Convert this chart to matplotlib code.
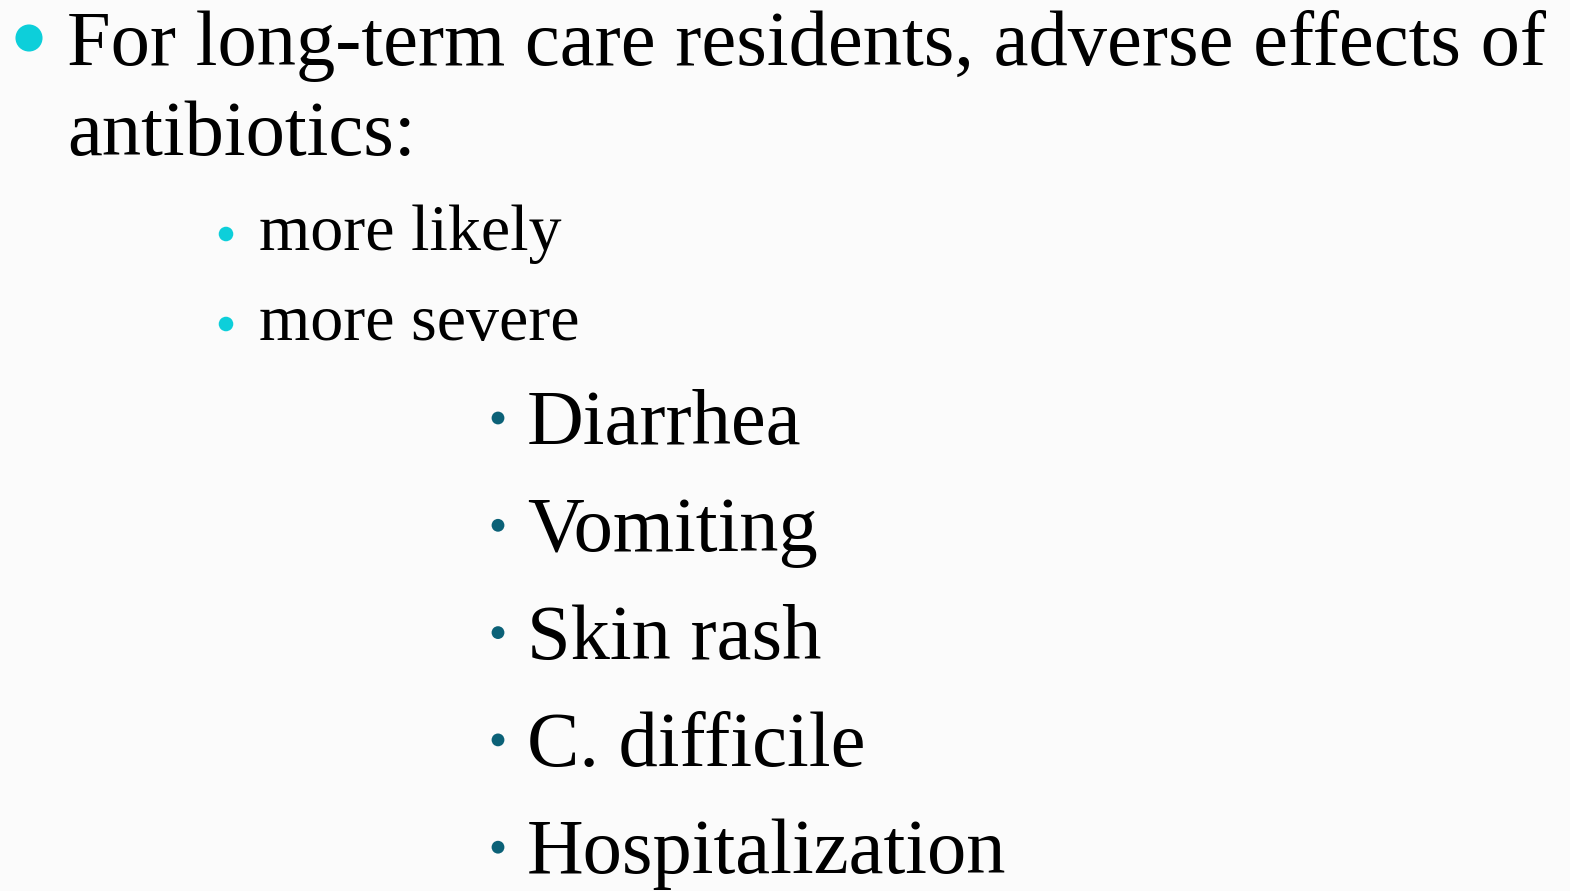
import matplotlib.pyplot as plt

# slide content
level1 = ["For long-term care residents, adverse effects of", "antibiotics:"]
level2 = ["more likely", "more severe"]
level3 = ["Diarrhea", "Vomiting", "Skin rash", "C. difficile", "Hospitalization"]

W, H = 1570, 891
fig = plt.figure(figsize=(W / 100, H / 100), dpi=100, facecolor="#fbfbfb")
ax = fig.add_axes([0, 0, 1, 1])
ax.set_xlim(0, W)
ax.set_ylim(H, 0)
ax.axis("off")

font = "Liberation Serif"

# first level
ax.scatter([29], [38], s=380, color="#0dcfda", edgecolors="none")
for i, line in enumerate(level1):
    ax.text(67, 65 + i * 90, line, fontsize=56.5, family=font, va="baseline", ha="left")

# second level
for i, line in enumerate(level2):
    y = 250 + i * 90
    ax.scatter([226], [y - 16], s=110, color="#0dcfda", edgecolors="none")
    ax.text(259, y, line, fontsize=47.5, family=font, va="baseline", ha="left")

# third level
for i, line in enumerate(level3):
    y = 444 + i * 107.3
    ax.scatter([498], [y - 26], s=85, color="#0b6177", edgecolors="none")
    ax.text(527, y, line, fontsize=56.5, family=font, va="baseline", ha="left")

fig.savefig("out.png", dpi=100, facecolor=fig.get_facecolor())
